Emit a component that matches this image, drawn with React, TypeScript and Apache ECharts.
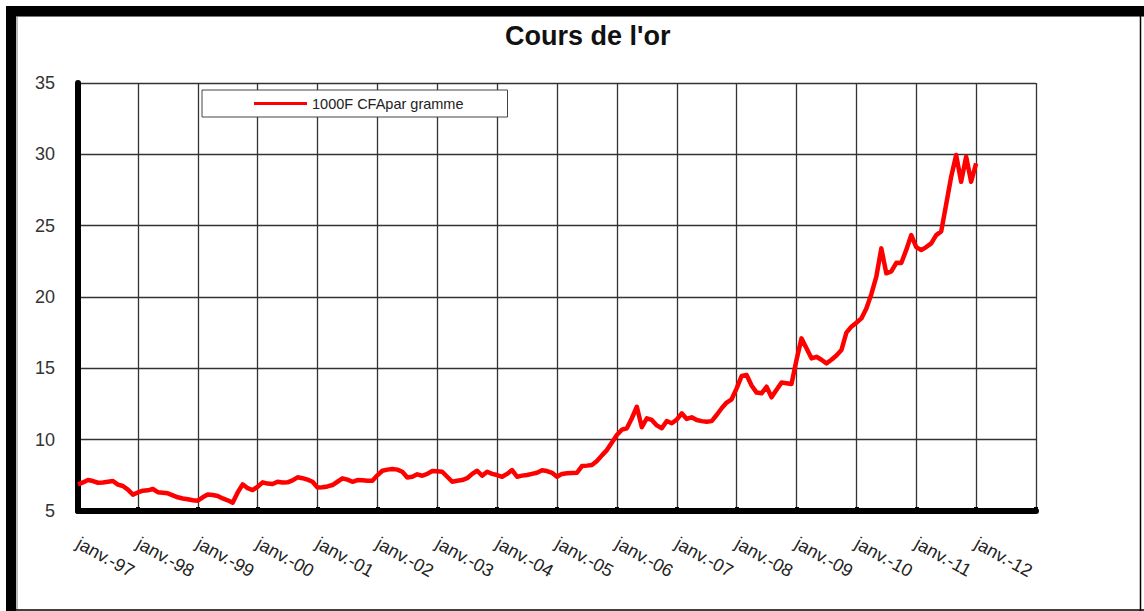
import React, { useEffect, useRef } from "react";
import * as echarts from "echarts";

// Monthly gold price (1000 F CFA per gram), from janv. 1997 onward
const prices: number[] = [
  6.87, 7.0, 7.17, 7.1, 6.98, 7.0, 7.05, 7.1, 6.85, 6.75, 6.5, 6.15,
  6.3, 6.42, 6.45, 6.54, 6.32, 6.28, 6.24, 6.1, 5.96, 5.88, 5.82, 5.75,
  5.72, 5.96, 6.15, 6.12, 6.05, 5.88, 5.75, 5.58, 6.3, 6.87, 6.6, 6.47,
  6.7, 7.01, 6.92, 6.89, 7.05, 7.0, 7.01, 7.15, 7.36, 7.3, 7.2, 7.05,
  6.65, 6.66, 6.72, 6.82, 7.05, 7.29, 7.2, 7.05, 7.17, 7.15, 7.12, 7.12,
  7.5, 7.82, 7.9, 7.94, 7.9, 7.75, 7.35, 7.4, 7.57, 7.47, 7.6, 7.8,
  7.78, 7.75, 7.4, 7.05, 7.12, 7.17, 7.3, 7.6, 7.82, 7.47, 7.75, 7.6,
  7.52, 7.4, 7.6, 7.87, 7.4, 7.48, 7.52, 7.6, 7.68, 7.85, 7.8, 7.68,
  7.4, 7.6, 7.64, 7.66, 7.68, 8.15, 8.18, 8.22, 8.5, 8.9, 9.27, 9.8,
  10.33, 10.7, 10.8, 11.5, 12.31, 10.87, 11.5, 11.38, 11.0, 10.8, 11.31, 11.15,
  11.4, 11.85, 11.45, 11.57, 11.38, 11.3, 11.26, 11.3, 11.73, 12.2, 12.6, 12.83,
  13.6, 14.46, 14.53, 13.8, 13.3, 13.25, 13.71, 12.97, 13.5, 14.0, 13.95, 13.9,
  15.58, 17.1, 16.4, 15.7, 15.81, 15.6, 15.35, 15.6, 15.9, 16.28, 17.5, 17.92,
  18.2, 18.5, 19.2, 20.2, 21.42, 23.41, 21.66, 21.8, 22.4, 22.38, 23.3, 24.34,
  23.5, 23.29, 23.5, 23.76, 24.34, 24.6, 26.5, 28.43, 29.95, 28.08, 29.83, 28.08,
  29.37,
];

const yearLabels: string[] = [
  "janv.-97", "janv.-98", "janv.-99", "janv.-00", "janv.-01", "janv.-02",
  "janv.-03", "janv.-04", "janv.-05", "janv.-06", "janv.-07", "janv.-08",
  "janv.-09", "janv.-10", "janv.-11", "janv.-12",
];

const seriesName = "1000F CFApar gramme";
const titleText = "Cours de l'or";

export default function App() {
  const ref = useRef<HTMLDivElement>(null);
  useEffect(() => {
    if (!ref.current) return;
    const chart = echarts.init(ref.current, null, { renderer: "svg" });
    const font = "'Liberation Sans', Arial, sans-serif";
    chart.setOption({
      animation: false,
      backgroundColor: "#ffffff",
      title: {
        text: titleText,
        left: 505,
        top: 22,
        padding: 0,
        textStyle: { fontFamily: font, fontSize: 27, fontWeight: "bold", color: "#111" },
      },
      legend: {
        left: 202,
        top: 90,
        orient: "horizontal",
        padding: [6, 44, 6, 52],
        backgroundColor: "#ffffff",
        borderColor: "#444",
        borderWidth: 1,
        icon: "rect",
        itemWidth: 53,
        itemHeight: 3,
        textStyle: { fontFamily: font, fontSize: 14.5, color: "#222" },
        data: [seriesName],
      },
      grid: { left: 78, top: 83, right: 108, bottom: 100 },
      xAxis: {
        type: "value",
        min: 0,
        max: 192,
        interval: 12,
        axisLine: { show: true, onZero: false, lineStyle: { color: "#000", width: 6 } },
        axisTick: { show: true, inside: true, length: 4, lineStyle: { color: "#000", width: 4 } },
        splitLine: { show: true, lineStyle: { color: "#333", width: 1.3 } },
        axisLabel: {
          rotate: -29,
          margin: 31,
          fontFamily: font,
          fontSize: 18,
          color: "#222",
          formatter: (v: number) => yearLabels[Math.round(v / 12)] ?? "",
        },
      },
      yAxis: {
        type: "value",
        min: 5,
        max: 35,
        interval: 5,
        axisLine: { show: true, lineStyle: { color: "#000", width: 6 } },
        axisTick: { show: false },
        splitLine: { show: true, lineStyle: { color: "#333", width: 1.3 } },
        axisLabel: { margin: 23, fontFamily: font, fontSize: 18, color: "#333" },
      },
      series: [
        {
          name: seriesName,
          type: "line",
          data: prices.map((v, i) => [i, v]),
          showSymbol: false,
          symbol: "none",
          itemStyle: { color: "#ff0000" },
          lineStyle: { color: "#ff0000", width: 4.5, join: "round" },
          z: 5,
        },
      ],
      graphic: [
        { type: "rect", shape: { x: 6, y: 6, width: 1138, height: 10 }, style: { fill: "#000" }, z: 100 },
        { type: "rect", shape: { x: 6, y: 6, width: 10, height: 605 }, style: { fill: "#000" }, z: 100 },
        { type: "line", shape: { x1: 17, y1: 16, x2: 17, y2: 610 }, style: { stroke: "#777", lineWidth: 1 }, z: 100 },
        { type: "line", shape: { x1: 16, y1: 16.5, x2: 1144, y2: 16.5 }, style: { stroke: "#777", lineWidth: 1 }, z: 100 },
        { type: "line", shape: { x1: 1140.5, y1: 16, x2: 1140.5, y2: 611 }, style: { stroke: "#000", lineWidth: 1.5 }, z: 100 },
        { type: "line", shape: { x1: 16, y1: 610, x2: 1144, y2: 610 }, style: { stroke: "#000", lineWidth: 1.5 }, z: 100 },
      ],
    });
    return () => chart.dispose();
  }, []);
  return (
    <div
      ref={ref}
      style={{ position: "fixed", left: 0, top: 0, width: 1144, height: 611 }}
    />
  );
}
